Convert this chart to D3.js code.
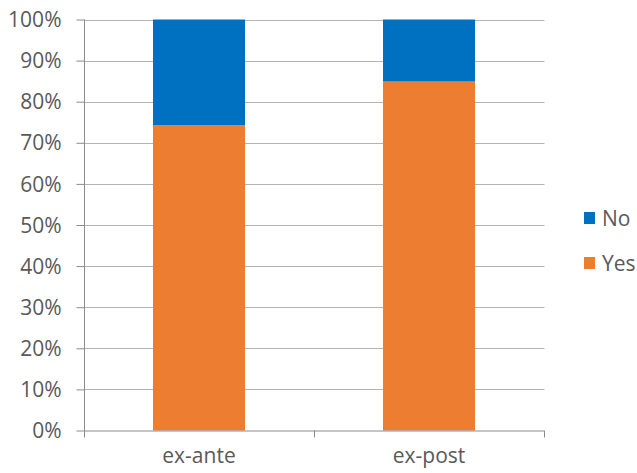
<!DOCTYPE html>
<html><head><meta charset="utf-8">
<script src="https://cdn.jsdelivr.net/npm/d3@7"></script>
<style>body{margin:0;background:#fff}svg{display:block}text{font-family:"Open Sans",sans-serif;fill:#595959}</style>
</head><body><svg id="c" width="637" height="473"></svg>
<script>
const categories = ["ex-ante", "ex-post"];
const yesValues = [0.743, 0.849];
const noValues = [0.257, 0.151];
const seriesNames = ["No", "Yes"];
const seriesColors = ["#0070C0", "#ED7D31"];
const yTicks = [0, 0.1, 0.2, 0.3, 0.4, 0.5, 0.6, 0.7, 0.8, 0.9, 1.0];

(function () {
const svg = d3.select("#c");
const pL = 84, pR = 544, pT = 19.5, pB = 430.5;
const x = d3.scaleBand().domain(categories).range([pL, pR]).padding(0);
const y = d3.scaleLinear().domain([0, 1]).range([pB, pT]);

// gridlines
svg.append("g").selectAll("line").data(yTicks.filter(d => d > 0)).join("line")
  .attr("x1", pL).attr("x2", pR + 0.5)
  .attr("y1", d => Math.round(y(d)) + 0.5).attr("y2", d => Math.round(y(d)) + 0.5)
  .attr("stroke", "#b4b4b4").attr("stroke-width", 1);

// bars
const rows = categories.map((c, i) => ({cat: c, Yes: yesValues[i], No: noValues[i]}));
const stack = d3.stack().keys(["Yes", "No"])(rows);
const color = d3.scaleOrdinal().domain(seriesNames).range(seriesColors);
svg.append("g").selectAll("g").data(stack).join("g").attr("fill", d => color(d.key))
  .selectAll("rect").data(d => d).join("rect")
  .attr("x", d => x(d.data.cat) + x.bandwidth() * 0.3)
  .attr("width", x.bandwidth() * 0.4)
  .attr("y", d => y(d[1]))
  .attr("height", d => y(d[0]) - y(d[1]));

// y axis
const yAxis = d3.axisLeft(y).tickValues(yTicks).tickFormat(d3.format(".0%")).tickSize(8).tickPadding(15);
const ga = svg.append("g").attr("transform", `translate(${pL + 0.5},0)`).call(yAxis);
ga.select(".domain").attr("stroke", "#8c8c8c").attr("d", `M0,${pT}V${pB}`);
ga.selectAll(".tick line").attr("stroke", "#8c8c8c");
ga.selectAll(".tick text").style("font-size", "21px").style("fill", "#595959").attr("font-family", null).attr("dy", "0.34em");

// x axis
const xAxis = d3.axisBottom(x).tickSize(0).tickPadding(18);
const gx = svg.append("g").attr("transform", `translate(0,${pB})`).call(xAxis);
gx.select(".domain").attr("stroke", "#8c8c8c").attr("d", `M${pL},0.5H${pR}`);
gx.selectAll(".tick text").style("font-size", "21px").style("fill", "#595959").attr("font-family", null);
const bounds = [pL, pL + x.bandwidth(), pR];
gx.append("g").selectAll("line").data(bounds).join("line")
  .attr("x1", d => Math.round(d) + 0.5).attr("x2", d => Math.round(d) + 0.5)
  .attr("y1", 0).attr("y2", 7).attr("stroke", "#8c8c8c");

// legend
const lg = svg.append("g").selectAll("g").data(seriesNames).join("g")
  .attr("transform", (d, i) => `translate(584,${212 + i * 45})`);
lg.append("rect").attr("width", 11).attr("height", 12).attr("fill", d => color(d));
lg.append("text").attr("x", 18).attr("y", 14).style("font-size", "21px").text(d => d);
})();
</script></body></html>
